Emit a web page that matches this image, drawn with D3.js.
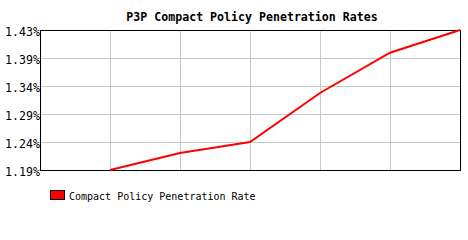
<!DOCTYPE html>
<html>
<head>
<meta charset="utf-8">
<script src="https://cdn.jsdelivr.net/npm/d3@7"></script>
<style>
  body { margin: 0; background: #fff; }
  svg text { font-family: "DejaVu Sans Mono", "Liberation Mono", monospace; }
</style>
</head>
<body>
<svg id="chart"></svg>
<script>
// Chart data
const periods = ["P1", "P2", "P3", "P4", "P5", "P6", "P7"];
const rates = [null, 1.190, 1.219, 1.238, 1.322, 1.391, 1.430];
const yTicks = [1.19, 1.238, 1.286, 1.334, 1.382, 1.43];
const yTickLabels = ["1.19%", "1.24%", "1.29%", "1.34%", "1.39%", "1.43%"];
const seriesName = "Compact Policy Penetration Rate";
const title = "P3P Compact Policy Penetration Rates";

const width = 468, height = 240;
const margin = { top: 30, right: 8, bottom: 70, left: 40 };
const plotW = width - margin.left - margin.right;
const plotH = height - margin.top - margin.bottom;

const svg = d3.select("#chart")
    .attr("width", width)
    .attr("height", height);

svg.append("text")
    .attr("x", 252)
    .attr("y", 21)
    .attr("text-anchor", "middle")
    .style("font-size", "11.6px")
    .style("font-weight", "bold")
    .text(title);

const g = svg.append("g")
    .attr("transform", `translate(${margin.left},${margin.top})`);

const x = d3.scalePoint()
    .domain(periods)
    .range([0, plotW]);

const y = d3.scaleLinear()
    .domain([1.19, 1.43])
    .range([plotH, 0]);

// grid
g.selectAll(".vgrid")
    .data(periods.slice(1, -1))
    .enter()
    .append("line")
    .attr("x1", d => Math.round(x(d)) + 0.5)
    .attr("x2", d => Math.round(x(d)) + 0.5)
    .attr("y1", 0)
    .attr("y2", plotH)
    .attr("stroke", "#c8c8c8")
    .attr("stroke-width", 1);

g.selectAll(".hgrid")
    .data(yTicks.slice(1, -1))
    .enter()
    .append("line")
    .attr("x1", 0)
    .attr("x2", plotW)
    .attr("y1", d => Math.round(y(d)) + 0.5)
    .attr("y2", d => Math.round(y(d)) + 0.5)
    .attr("stroke", "#c8c8c8")
    .attr("stroke-width", 1);

// frame
g.append("rect")
    .attr("x", 0.5)
    .attr("y", 0.5)
    .attr("width", plotW)
    .attr("height", plotH)
    .attr("fill", "none")
    .attr("stroke", "#000")
    .attr("stroke-width", 1);

// y axis labels
const yAxis = d3.axisLeft(y)
    .tickValues(yTicks)
    .tickFormat((d, i) => yTickLabels[i])
    .tickSize(0)
    .tickPadding(0);

g.append("g")
    .call(yAxis)
    .call(a => a.select(".domain").remove())
    .selectAll("text")
    .attr("dy", "0.5em")
    .style("font-family", "'DejaVu Sans Mono', monospace")
    .style("font-size", "11.6px")
    .attr("fill", "#000");

// line
const line = d3.line()
    .defined(d => d != null)
    .x((d, i) => x(periods[i]))
    .y(d => y(d));

g.append("path")
    .datum(rates)
    .attr("d", line)
    .attr("fill", "none")
    .attr("stroke", "#ff0000")
    .attr("stroke-width", 2);

// legend
svg.append("rect")
    .attr("x", 50.5)
    .attr("y", 190.5)
    .attr("width", 14)
    .attr("height", 9)
    .attr("fill", "#ff0000")
    .attr("stroke", "#000");

svg.append("text")
    .attr("x", 69)
    .attr("y", 200)
    .style("font-size", "10px")
    .text(seriesName);
</script>
</body>
</html>
